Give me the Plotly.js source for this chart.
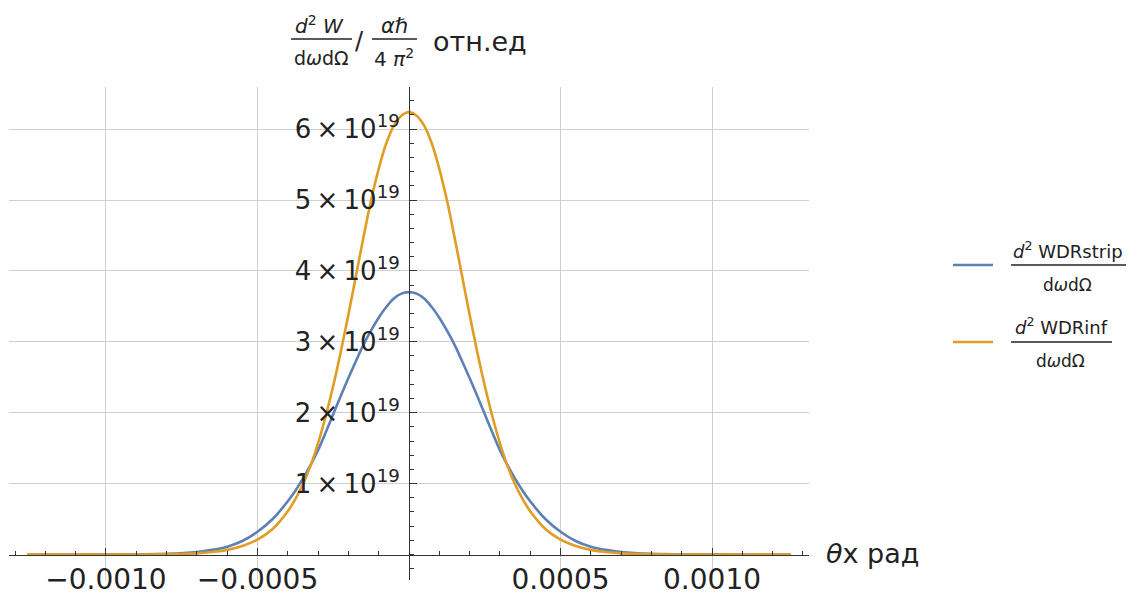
<!DOCTYPE html>
<html>
<head>
<meta charset="utf-8">
<script src="https://cdn.plot.ly/plotly-3.0.1.min.js"></script>
<style>
html,body{margin:0;padding:0;background:#fff;}
#chart{width:1137px;height:595px;}
</style>
</head>
<body>
<div id="chart"></div>
<script>
// theta_x (rad) sample positions
const theta = [-12.6e-4,-10e-4,-8e-4,-7e-4,-6.5e-4,-6e-4,-5.5e-4,-5e-4,-4.5e-4,-4e-4,-3.75e-4,-3.5e-4,-3.25e-4,-3e-4,-2.75e-4,-2.5e-4,-2.25e-4,-2e-4,-1.75e-4,-1.5e-4,-1.25e-4,-1e-4,-0.75e-4,-0.5e-4,-0.25e-4,0,
  0.25e-4,0.5e-4,0.75e-4,1e-4,1.25e-4,1.5e-4,1.75e-4,2e-4,2.25e-4,2.5e-4,2.75e-4,3e-4,3.25e-4,3.5e-4,3.75e-4,4e-4,4.5e-4,5e-4,5.5e-4,6e-4,6.5e-4,7e-4,8e-4,10e-4,12.6e-4];

// d2 WDRstrip / dω dΩ  (blue)
const wdrStrip = [0,0.001e19,0.01e19,0.035e19,0.065e19,0.11e19,0.19e19,0.32e19,0.50e19,0.75e19,0.90e19,1.07e19,1.26e19,1.47e19,1.72e19,1.98e19,2.24e19,2.49e19,2.73e19,2.96e19,3.16e19,3.34e19,3.49e19,3.61e19,3.68e19,3.70e19,
  3.68e19,3.61e19,3.49e19,3.34e19,3.16e19,2.96e19,2.73e19,2.49e19,2.24e19,1.98e19,1.72e19,1.47e19,1.26e19,1.07e19,0.90e19,0.75e19,0.50e19,0.32e19,0.19e19,0.11e19,0.065e19,0.035e19,0.01e19,0.001e19,0];

// d2 WDRinf / dω dΩ  (orange)
const wdrInf = [0,0,0.003e19,0.015e19,0.035e19,0.065e19,0.12e19,0.21e19,0.36e19,0.61e19,0.78e19,0.99e19,1.25e19,1.57e19,1.95e19,2.38e19,2.86e19,3.38e19,3.93e19,4.48e19,5.00e19,5.44e19,5.80e19,6.05e19,6.19e19,6.24e19,
  6.19e19,6.05e19,5.80e19,5.44e19,5.00e19,4.48e19,3.93e19,3.38e19,2.86e19,2.38e19,1.95e19,1.57e19,1.25e19,0.99e19,0.78e19,0.61e19,0.36e19,0.21e19,0.12e19,0.065e19,0.035e19,0.015e19,0.003e19,0,0];

const xTickVals = [-0.0010,-0.0005,0.0005,0.0010];
const xTickText = ["\u22120.0010","\u22120.0005","0.0005","0.0010"];
const yTickVals = [1e19,2e19,3e19,4e19,5e19,6e19];
const yTickText = ["1\u2009×\u200910<sup>19</sup>","2\u2009×\u200910<sup>19</sup>","3\u2009×\u200910<sup>19</sup>",
                   "4\u2009×\u200910<sup>19</sup>","5\u2009×\u200910<sup>19</sup>","6\u2009×\u200910<sup>19</sup>"];

const BLUE = '#5E81B5', ORANGE = '#E19C24';
const FONT = 'DejaVu Sans';

// layout geometry (pixels)
const L = 9, T = 87, W = 800, H = 493;
const px = x => (x - L) / W;
const py = y => (T + H - y) / H;

const traces = [
  {x: theta, y: wdrStrip, type: 'scatter', mode: 'lines', line: {color: BLUE, width: 2.6, shape: 'spline', smoothing: 1}, name: 'strip', showlegend: false, hoverinfo: 'skip'},
  {x: theta, y: wdrInf, type: 'scatter', mode: 'lines', line: {color: ORANGE, width: 2.6, shape: 'spline', smoothing: 1}, name: 'inf', showlegend: false, hoverinfo: 'skip'}
];

function txt(x, y, text, size, opts) {
  return Object.assign({xref: 'paper', yref: 'paper', x: px(x), y: py(y), text: text, showarrow: false,
    xanchor: 'center', yanchor: 'middle', font: {family: FONT, size: size, color: '#222'}}, opts || {});
}
function bar(x0, x1, y) {
  return {type: 'line', xref: 'paper', yref: 'paper', x0: px(x0), x1: px(x1), y0: py(y), y1: py(y), line: {color: '#222', width: 1.4}};
}
function lline(x0, x1, y, c) {
  return {type: 'line', xref: 'paper', yref: 'paper', x0: px(x0), x1: px(x1), y0: py(y), y1: py(y), line: {color: c, width: 2.6}};
}

const annotations = [
  // y-axis label at the top
  txt(319, 25, '<i>d</i><sup>2</sup> <i>W</i>', 20),
  txt(321, 58, 'd<i>ω</i>dΩ', 19),
  txt(359, 41, '/', 24),
  txt(394, 26, '<i>α</i>ℏ', 21),
  txt(394, 58, '4 <i>π</i><sup>2</sup>', 20),
  txt(431, 42, 'отн.ед', 27, {xanchor: 'left'}),
  // x-axis label
  txt(824, 553, '<i>θ</i>x рад', 27, {xanchor: 'left'}),
  // legend
  txt(1068, 250, '<i>d</i><sup>2</sup> WDRstrip', 18),
  txt(1067, 285, 'd<i>ω</i>dΩ', 17),
  txt(1061, 326, '<i>d</i><sup>2</sup> WDRinf', 18),
  txt(1060, 361, 'd<i>ω</i>dΩ', 17)
];

const shapes = [
  bar(291, 352, 39),
  bar(372, 417, 39),
  bar(1011, 1126, 265),
  bar(1011, 1112, 342),
  lline(953, 993, 265, BLUE),
  lline(953, 993, 342, ORANGE)
];

const layout = {
  width: 1137, height: 595,
  margin: {l: L, r: 1137 - L - W, t: T, b: 595 - T - H, pad: 0},
  paper_bgcolor: '#fff', plot_bgcolor: '#fff',
  font: {family: FONT, color: '#222'},
  showlegend: false,
  xaxis: {
    range: [-0.00132, 0.00132], anchor: 'free', position: (580 - 554.5) / H,
    tickvals: xTickVals, ticktext: xTickText, tickfont: {family: FONT, size: 28, color: '#222'},
    ticks: 'inside', ticklen: 7, tickcolor: '#333', tickwidth: 1,
    showgrid: true, gridcolor: '#cfcfcf', gridwidth: 1,
    zeroline: false, showline: true, linecolor: '#333', linewidth: 1.3,
    minor: {dtick: 0.0001, tick0: 0, ticks: 'inside', ticklen: 4, tickcolor: '#333', showgrid: false},
    fixedrange: true
  },
  yaxis: {
    range: [-0.36e19, 6.594e19], anchor: 'free', position: 0.5,
    tickvals: yTickVals, ticktext: yTickText, tickfont: {family: FONT, size: 26, color: '#222'},
    ticks: 'inside', ticklen: 7, tickcolor: '#333', tickwidth: 1, ticklabelstandoff: 4,
    showgrid: true, gridcolor: '#cfcfcf', gridwidth: 1,
    zeroline: false, showline: true, linecolor: '#333', linewidth: 1.3,
    minor: {dtick: 0.2e19, tick0: 0, ticks: 'inside', ticklen: 4, tickcolor: '#333', showgrid: false},
    fixedrange: true
  },
  annotations: annotations,
  shapes: shapes
};

Plotly.newPlot('chart', traces, layout, {displayModeBar: false, staticPlot: true});
</script>
</body>
</html>
